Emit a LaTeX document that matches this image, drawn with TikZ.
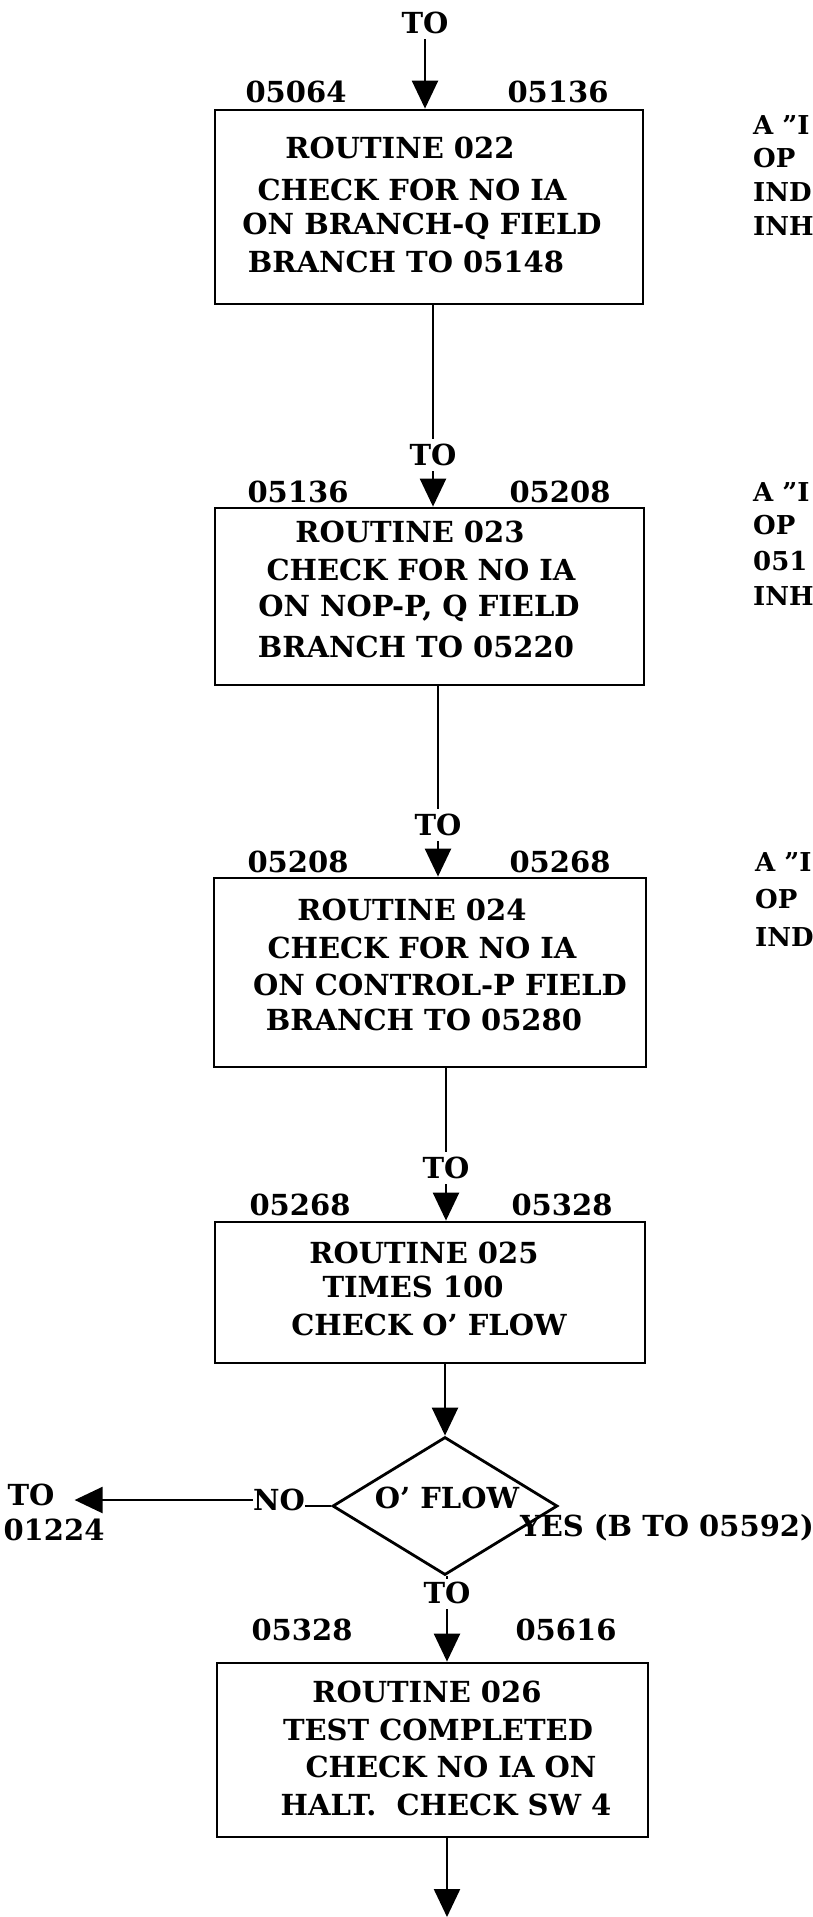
\documentclass[tikz,border=0pt]{standalone}
\usepackage{fontspec}
\setmainfont{DejaVu Serif}
\usetikzlibrary{arrows.meta,shapes.geometric}
\tikzset{
  lbl/.style={font=\fontsize{29}{33}\selectfont\bfseries, inner sep=0pt},
  note/.style={font=\fontsize{26}{30}\selectfont\bfseries, inner sep=0pt, anchor=west},
  boxx/.style={draw, line width=2.8pt, rectangle, inner sep=0pt},
  conn/.style={line width=2.4pt},
  arr/.style={line width=2.4pt, -{Triangle[length=28pt,width=26pt]}},
}
\begin{document}
\begin{tikzpicture}[x=1pt,y=-1pt]
\fill[white] (0,0) rectangle (813,1917);
\useasboundingbox (0,0) rectangle (813,1917);

% ---- box 1
\node[lbl] (to1) at (425,23) {TO};
\node[lbl] (a1) at (296,92) {05064};
\node[lbl] (c1) at (558,92) {05136};
\node[boxx, minimum width=428pt, minimum height=194pt] (b1) at (429,207) {};
\node[lbl] (b1a) at (400,148) {ROUTINE 022};
\node[lbl] (b1b) at (412,190) {CHECK FOR NO IA};
\node[lbl] (b1c) at (422,226) {ON BRANCH-Q FIELD};
\node[lbl] (b1d) at (406,262) {BRANCH TO 05148};
\node[note] (n1a) at (753,125) {A "I};
\node[note] (n1b) at (753,158) {OP};
\node[note] (n1c) at (753,192) {IND};
\node[note] (n1d) at (753,226) {INH};

% ---- box 2
\node[lbl] (to2) at (433,455) {TO};
\node[lbl] (a2) at (298,492) {05136};
\node[lbl] (c2) at (560,492) {05208};
\node[boxx, minimum width=429pt, minimum height=177pt] (b2) at (429.5,596.5) {};
\node[lbl] (b2a) at (410,532) {ROUTINE 023};
\node[lbl] (b2b) at (421,570) {CHECK FOR NO IA};
\node[lbl] (b2c) at (419,608) {ON NOP-P, Q FIELD};
\node[lbl] (b2d) at (416,647) {BRANCH TO 05220};
\node[note] (n2a) at (753,492) {A "I};
\node[note] (n2b) at (753,525) {OP};
\node[note] (n2c) at (753,561) {051};
\node[note] (n2d) at (753,596) {INH};

% ---- box 3
\node[lbl] (to3) at (438,825) {TO};
\node[lbl] (a3) at (298,862) {05208};
\node[lbl] (c3) at (560,862) {05268};
\node[boxx, minimum width=432pt, minimum height=189pt] (b3) at (430,972.5) {};
\node[lbl] (b3a) at (412,910) {ROUTINE 024};
\node[lbl] (b3b) at (422,948) {CHECK FOR NO IA};
\node[lbl] (b3c) at (440,985) {ON CONTROL-P FIELD};
\node[lbl] (b3d) at (424,1020) {BRANCH TO 05280};
\node[note] (n3a) at (755,862) {A "I};
\node[note] (n3b) at (755,899) {OP};
\node[note] (n3c) at (755,937) {IND};

% ---- box 4
\node[lbl] (to4) at (446,1168) {TO};
\node[lbl] (a4) at (300,1205) {05268};
\node[lbl] (c4) at (562,1205) {05328};
\node[boxx, minimum width=430pt, minimum height=141pt] (b4) at (430,1292.5) {};
\node[lbl] (b4a) at (424,1253) {ROUTINE 025};
\node[lbl] (b4b) at (413,1287) {TIMES 100};
\node[lbl] (b4c) at (429,1325) {CHECK O' FLOW};

% ---- decision
\node[diamond, draw, line width=2.8pt, inner sep=0pt, minimum width=225pt, minimum height=138pt] (d) at (445,1506) {};
\node[lbl] (dt) at (447,1498) {O' FLOW};
\node[lbl] (no) at (279,1500) {NO};
\node[lbl] (tol) at (31,1495) {TO};
\node[lbl] (tolb) at (54,1530) {01224};
\node[lbl] (yes) at (667,1528) {YES (B TO 05592)};
\node[lbl] (tob) at (447,1593) {TO};

% ---- box 5
\node[lbl] (a5) at (302,1630) {05328};
\node[lbl] (c5) at (566,1630) {05616};
\node[boxx, minimum width=431pt, minimum height=174pt] (b5) at (432.5,1750) {};
\node[lbl] (b5a) at (427,1692) {ROUTINE 026};
\node[lbl] (b5b) at (438,1730) {TEST COMPLETED};
\node[lbl] (b5c) at (451,1767) {CHECK NO IA ON};
\node[lbl] (b5d) at (446,1805) {HALT.\ \ CHECK SW 4};
\coordinate (end) at (447,1917);

% ---- connectors
\draw[arr, shorten <=5pt] (to1.south) -- (to1.south |- b1.north);
\draw[conn, shorten >=5pt] (to2.north |- b1.south) -- (to2.north);
\draw[arr, shorten <=5pt] (to2.south) -- (to2.south |- b2.north);
\draw[conn, shorten >=5pt] (to3.north |- b2.south) -- (to3.north);
\draw[arr, shorten <=5pt] (to3.south) -- (to3.south |- b3.north);
\draw[conn, shorten >=5pt] (to4.north |- b3.south) -- (to4.north);
\draw[arr, shorten <=5pt] (to4.south) -- (to4.south |- b4.north);
\draw[arr] (d.north |- b4.south) -- (d.north);
\draw[conn] (d.west) -- (d.west -| no.east);
\draw[arr, shorten >=20pt] (no.west) -- (no.west -| tol.east);
\draw[conn, shorten >=3pt] (tob.north |- d.south) -- (tob.north);
\draw[arr, shorten <=5pt] (tob.south) -- (tob.south |- b5.north);
\draw[arr] (b5.south -| end) -- (end);
\end{tikzpicture}
\end{document}
